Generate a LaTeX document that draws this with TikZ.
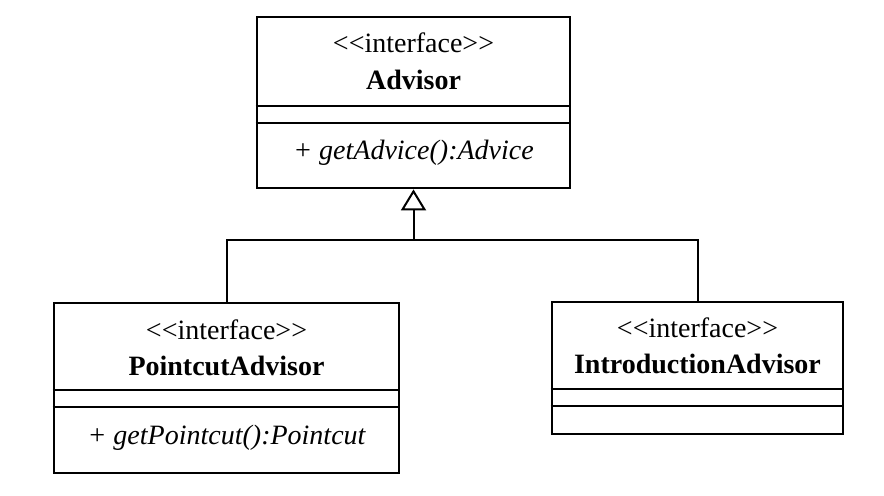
\documentclass[tikz,border=0pt]{standalone}
\usepackage{fontspec}
\setmainfont{Liberation Serif}[Ligatures=TeXOff]
\usetikzlibrary{arrows.meta}
\begin{document}
\begin{tikzpicture}[x=0.5pt, y=-0.5pt]

    \tikzset{classbox/.style={%
      draw,%
      rectangle,%
      line width=1.4pt,%
      inner sep=0pt}%
    };

    \tikzset{label/.style={inner sep=0pt, font=\fontsize{14}{16}\selectfont}};
    \tikzset{sep/.style={line width=1pt}};
    \tikzset{link/.style={line width=1pt}};

    \useasboundingbox (0,0) rectangle (884,496);

    %%%%%%%%%%%
    % classes %
    %%%%%%%%%%%
    \node [classbox, minimum width=156.5pt, minimum height=85.5pt] (adv) at (413.5,102.5) {};
    \node [label] (advst) at (413.5,43) {<<interface>>};
    \node [label] (advnm) at (413.5,80) {\bfseries Advisor};
    \node [label] (advop) at (413.5,153) {\itshape + getAdvice():Advice};
    \draw [sep] ([yshift=-45pt]adv.north west) -- ([yshift=-45pt]adv.north east);
    \draw [sep] ([yshift=-53.5pt]adv.north west) -- ([yshift=-53.5pt]adv.north east);

    \node [classbox, minimum width=172.5pt, minimum height=85pt] (pca) at (226.5,388) {};
    \node [label] (pcast) at (226.5,330) {<<interface>>};
    \node [label] (pcanm) at (226.5,366) {\bfseries PointcutAdvisor};
    \node [label] (pcaop) at (226.5,438) {\itshape + getPointcut():Pointcut};
    \draw [sep] ([yshift=-44pt]pca.north west) -- ([yshift=-44pt]pca.north east);
    \draw [sep] ([yshift=-52.5pt]pca.north west) -- ([yshift=-52.5pt]pca.north east);

    \node [classbox, minimum width=145.5pt, minimum height=66pt] (ina) at (697.5,368) {};
    \node [label] (inast) at (697.5,328) {<<interface>>};
    \node [label] (inanm) at (697.5,364) {\bfseries IntroductionAdvisor};
    \draw [sep] ([yshift=-44pt]ina.north west) -- ([yshift=-44pt]ina.north east);
    \draw [sep] ([yshift=-52.5pt]ina.north west) -- ([yshift=-52.5pt]ina.north east);

    %%%%%%%%%%%%%%%
    % inheritance %
    %%%%%%%%%%%%%%%
    \coordinate (join) at (413.5,240);

    \draw [link, -{Triangle[open, length=10.5pt, width=12.5pt, line width=1pt]}] (join) -- (adv.south);
    \draw [link] (pca.north) |- (join);
    \draw [link] (join) -| (ina.north);

  \end{tikzpicture}
\end{document}
